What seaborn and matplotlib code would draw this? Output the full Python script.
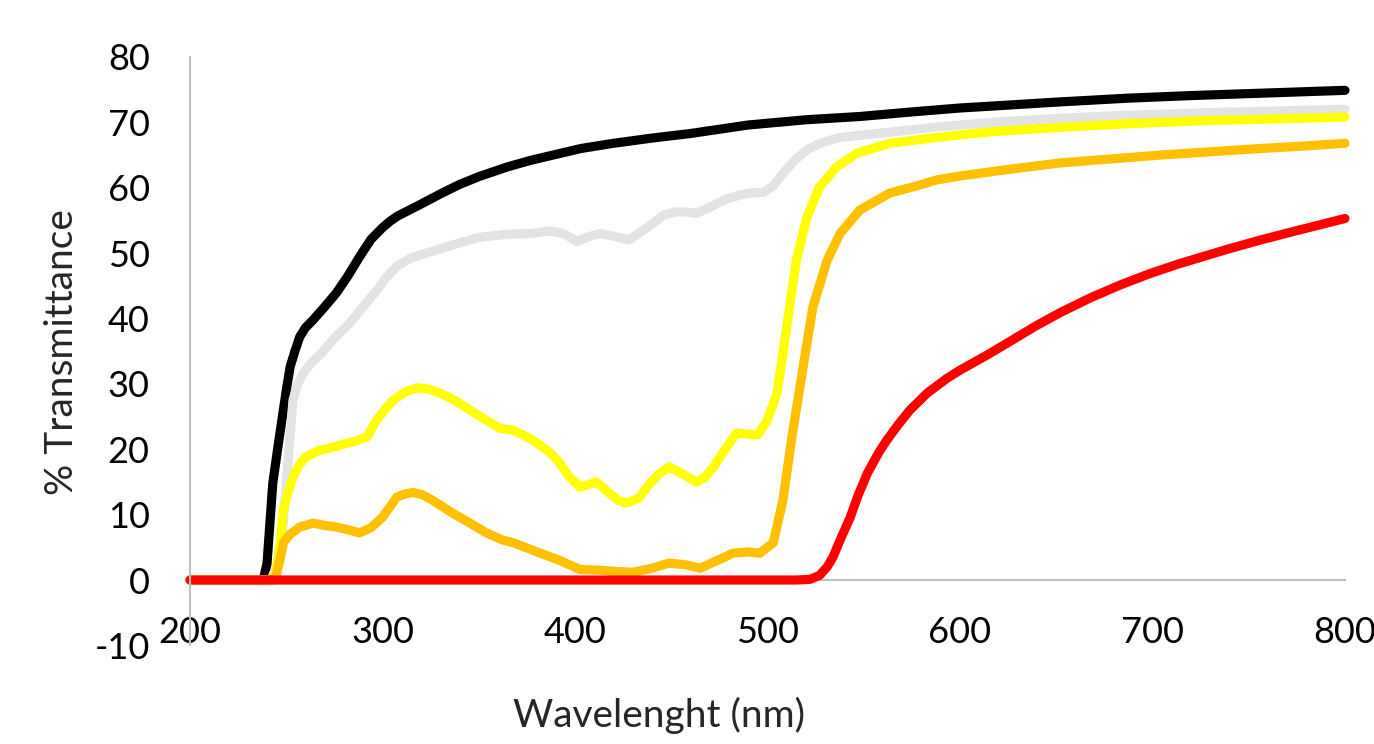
import numpy as np
import pandas as pd
import matplotlib
matplotlib.use("Agg")
import matplotlib.pyplot as plt
import seaborn as sns

# ---- data ----
black_wl = [200, 238, 240, 243, 245.5, 248, 250, 252, 254.5, 257, 260, 264, 270, 276, 282, 288, 294, 300,
            304, 308, 320, 331, 340, 350, 365, 377, 390, 403, 420, 440, 460, 490, 520, 548, 575, 600, 617,
            650, 687, 720, 760, 800]
black_t = [0, 0, 2.5, 14.8, 20, 25, 29, 32.6, 35, 37.2, 38.6, 39.8, 41.8, 43.9, 46.5, 49.4, 52.1, 53.9,
           54.9, 55.7, 57.5, 59.2, 60.5, 61.7, 63.2, 64.2, 65.1, 66, 66.8, 67.6, 68.3, 69.6, 70.4, 70.9,
           71.6, 72.2, 72.5, 73.1, 73.7, 74.1, 74.5, 74.9]

gray_wl = [200, 242, 245, 247, 248.5, 250, 252, 253.5, 256, 259, 263, 268, 275, 283, 290, 297, 302, 307.5,
           315, 325, 337, 350, 365, 377, 387, 394, 401, 407, 413, 420, 428, 437, 446, 452, 458, 463, 470,
           478, 485.7, 491, 498, 503, 508, 514, 520.5, 528, 537.7, 550, 563.6, 588, 617, 650, 687, 730, 800]
gray_t = [0, 0, 2, 5, 9, 14.8, 22, 27.5, 30, 31.7, 33.2, 34.6, 37, 39.3, 41.8, 44.3, 46.3, 48,
          49.3, 50.2, 51.3, 52.4, 52.9, 53, 53.4, 53, 51.8, 52.5, 53, 52.6, 52, 53.8, 55.8, 56.3, 56.3,
          56.1, 57, 58.2, 58.9, 59.2, 59.3, 60.3, 62.2, 64.2, 65.8, 66.9, 67.7, 68.1, 68.5, 69.3, 70,
          70.6, 71.1, 71.5, 72]

yellow_wl = [200, 243, 245, 247, 248.5, 251, 253.5, 256.5, 260, 267, 274, 280, 286.6, 292, 297, 301, 305.6,
             312, 318, 324, 330, 338, 345.5, 353, 361, 368, 375, 382, 387, 392, 397, 402.6, 407, 411, 414,
             418, 423, 427, 433, 439, 444, 449, 456, 463, 467, 472, 478, 484, 490, 495, 500, 505, 508,
             512, 515, 520.5, 527, 536, 546.5, 563.6, 588, 617, 650, 687, 730, 800]
yellow_t = [0, 0, 1.5, 6, 10.7, 13.5, 15.7, 17.5, 18.8, 19.8, 20.3, 20.8, 21.3, 21.9, 24.5, 26, 27.5,
            28.8, 29.4, 29.2, 28.6, 27.4, 26, 24.6, 23.2, 22.9, 21.9, 20.6, 19.5, 17.9, 15.8, 14.2, 14.6,
            15, 14.3, 13.2, 12.1, 11.8, 12.5, 14.8, 16.3, 17.3, 16.2, 15, 15.6, 17.3, 20, 22.5, 22.3,
            22.2, 24.5, 28.6, 34.7, 42.8, 48.9, 55.5, 60.1, 63.2, 65.3, 66.8, 67.7, 68.6, 69.2, 69.8,
            70.3, 70.8]

orange_wl = [200, 243, 245, 247, 248.5, 252, 257, 264, 269, 276, 282, 288, 294, 300, 307.5, 312, 316, 321,
             326, 336, 345.5, 354, 362.6, 368, 375, 382, 392, 402.6, 413, 422, 430, 440, 449, 458, 465,
             474, 482, 490, 496, 503, 508, 513, 518.5, 523.6, 531, 537.7, 548, 563.6, 577.7, 588, 600,
             625, 652, 678, 704, 730, 756, 780, 800]
orange_t = [0, 0, 1, 3.5, 5.7, 7, 8.1, 8.7, 8.4, 8.1, 7.7, 7.2, 8, 9.6, 12.7, 13.2, 13.4, 13,
            12.2, 10.3, 8.7, 7.2, 6.1, 5.7, 4.9, 4.1, 3, 1.6, 1.5, 1.3, 1.2, 1.8, 2.6, 2.3, 1.8,
            3, 4.1, 4.3, 4.1, 5.7, 12.2, 22.5, 32.6, 41.8, 48.9, 53, 56.6, 59.2, 60.3, 61.2, 61.8,
            62.8, 63.8, 64.4, 65, 65.5, 66, 66.4, 66.8]

red_wl = [200, 515, 522, 527, 531, 534, 538, 543, 547, 552, 558, 562, 568, 574, 583, 593, 600, 614, 626,
          639, 652, 668, 683, 698, 713, 739, 756, 773, 800]
red_t = [0, 0, 0.1, 0.7, 2, 3.5, 6.3, 9.6, 12.9, 16.4, 19.6, 21.4, 23.8, 26, 28.6, 30.8, 32.1, 34.4, 36.5,
         38.8, 40.9, 43.2, 45.1, 46.8, 48.3, 50.6, 52, 53.3, 55.3]

series_names = ["black", "gray", "yellow", "orange", "red"]
series_colors = ["#000000", "#e3e3e3", "#ffff00", "#ffc000", "#ff0000"]

x_ticks = [200, 300, 400, 500, 600, 700, 800]
y_ticks = [-10, 0, 10, 20, 30, 40, 50, 60, 70, 80]
x_label = "Wavelenght (nm)"
y_label = "% Transmittance"

# ---- long table ----
frames = []
for name, wl, t in zip(series_names,
                       [black_wl, gray_wl, yellow_wl, orange_wl, red_wl],
                       [black_t, gray_t, yellow_t, orange_t, red_t]):
    frames.append(pd.DataFrame({"wl": wl, "T": t, "series": name}))
df = pd.concat(frames, ignore_index=True)

sns.set_theme(style="white")
plt.rcParams["font.family"] = ["Lato", "DejaVu Sans"]
plt.rcParams["axes.unicode_minus"] = False

fig = plt.figure(figsize=(13.74, 7.44), dpi=100)
ax = fig.add_axes([190 / 1374, 1 - 645.4 / 744, 1155 / 1374, (645.4 - 57) / 744])

sns.lineplot(data=df, x="wl", y="T", hue="series", hue_order=series_names,
             palette=dict(zip(series_names, series_colors)), estimator=None, sort=False,
             linewidth=6.6, legend=False, ax=ax)
for ln in ax.lines:
    ln.set_solid_capstyle("round")
    ln.set_solid_joinstyle("round")
    ln.set_clip_on(False)

ax.set_xlim(200, 800)
ax.set_ylim(-10, 80)
ax.set_xticks(x_ticks)
ax.set_yticks(y_ticks)
ax.set_xlabel("")
ax.set_ylabel("")

for s in ["top", "right"]:
    ax.spines[s].set_visible(False)
ax.spines["bottom"].set_position(("data", 0))
ax.spines["bottom"].set_zorder(0)
for s in ["left", "bottom"]:
    ax.spines[s].set_color("#bfbfbf")
    ax.spines[s].set_linewidth(1.5)

ax.tick_params(axis="x", length=0, pad=26, labelsize=26, labelcolor="black")
ax.tick_params(axis="y", length=0, pad=29, labelsize=26, labelcolor="black")
ax.grid(False)

fig.text(659 / 1374, 1 - 715 / 744, x_label, ha="center", va="center", fontsize=28)
fig.text(62 / 1374, 1 - 352 / 744, y_label, ha="center", va="center", rotation=90, fontsize=28)

fig.savefig("out.png", dpi=100)
